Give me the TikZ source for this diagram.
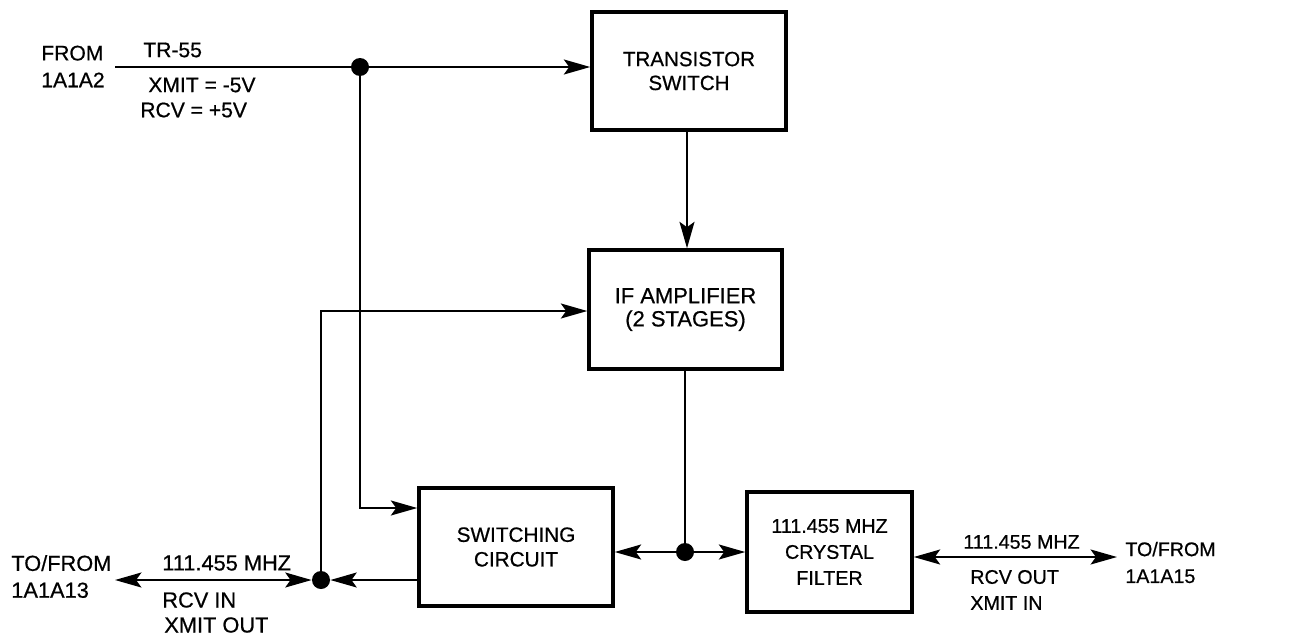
\documentclass[tikz,border=0pt]{standalone}
\usepackage{fontspec}
\setmainfont{Liberation Sans}[FakeBold=0.6]
\usetikzlibrary{arrows.meta}
\tikzset{tip/.tip={Stealth[length=15pt,width=8.5pt,inset=3pt]}}
\begin{document}
\begin{tikzpicture}[x=0.02cm,y=-0.02cm,
  every node/.style={font=\fontsize{11.5}{14}\selectfont},
  blk/.style={draw,line width=2pt,align=center,inner sep=0pt},
  lbl/.style={inner sep=0pt,anchor=west,align=left,font=\fontsize{12}{15.3}\selectfont},
  lblL/.style={lbl,font=\fontsize{12.4}{15.3}\selectfont},
  lblR/.style={lbl,font=\fontsize{11.2}{15.3}\selectfont},
  dot/.style={circle,fill,inner sep=0pt,minimum size=0.36cm},
  conn/.style={line width=1.3pt},
  arr/.style={conn,-tip},
  barr/.style={conn,tip-tip}]
\useasboundingbox (0,0) rectangle (1307,639);
% blocks
\node[blk,minimum width=3.88cm,minimum height=2.36cm,font=\fontsize{11.7}{13.6}\selectfont] (TS) at (689,71) {TRANSISTOR\\SWITCH};
\node[blk,minimum width=3.86cm,minimum height=2.38cm,font=\fontsize{12.5}{13.2}\selectfont] (IF) at (685.5,309.5) {IF AMPLIFIER\\(2 STAGES)};
\node[blk,minimum width=3.88cm,minimum height=2.36cm,font=\fontsize{11.8}{14}\selectfont] (SW) at (516,547) {SWITCHING\\CIRCUIT};
\node[blk,minimum width=3.30cm,minimum height=2.40cm,font=\fontsize{11.2}{14.8}\selectfont] (CF) at (829.5,552) {111.455 MHZ\\CRYSTAL\\FILTER};
% junctions
\node[dot] (d1) at (360,67) {};
\node[dot] (d2) at (685,552) {};
\node[dot] (d3) at (321,580) {};
% coordinates
\coordinate (inL) at (115,67);
\coordinate (c1) at (360,508);
\coordinate (c2) at (321,311);
\coordinate (tfL) at (115,580);
\coordinate (tfR) at (1117,557);
\coordinate (v1) at (687,0);
% connectors
\draw[conn] (inL) -- (d1);
\draw[arr] (d1) -- (TS.west |- d1);
\draw[arr] (d1) -- (c1) -- (SW.west |- c1);
\draw[arr] (v1 |- TS.south) -- (v1 |- IF.north);
\draw[arr] (d3) -- (c2) -- (IF.west |- c2);
\draw[barr] (tfL) -- (d3);
\draw[arr] (SW.west |- d3) -- (d3);
\draw[conn] (d2 |- IF.south) -- (d2);
\draw[arr] (d2) -- (SW.east |- d2);
\draw[arr] (d2) -- (CF.west |- d2);
\draw[barr] (CF.east |- tfR) -- (tfR);
% labels
\node[lbl] (from) at (41,66.5) {FROM\\1A1A2};
\node[lbl] (tr) at (143,50) {TR-55};
\node[lbl] (xm) at (148,85) {XMIT = -5V};
\node[lbl] (rc) at (140,110) {RCV = +5V};
\node[lblL] (tfl) at (11,576.5) {TO/FROM\\1A1A13};
\node[lblL] (fl) at (162,563) {111.455 MHZ};
\node[lblL] (rcvin) at (162,600) {RCV IN};
\node[lblL] (xmout) at (164,625) {XMIT OUT};
\node[lblR] (fr) at (963,542) {111.455 MHZ};
\node[lblR] (rcvout) at (970,577) {RCV OUT};
\node[lblR] (xmin) at (970,603) {XMIT IN};
\node[lblR] (tfr) at (1125,562.5) {TO/FROM\\1A1A15};
\end{tikzpicture}
\end{document}
